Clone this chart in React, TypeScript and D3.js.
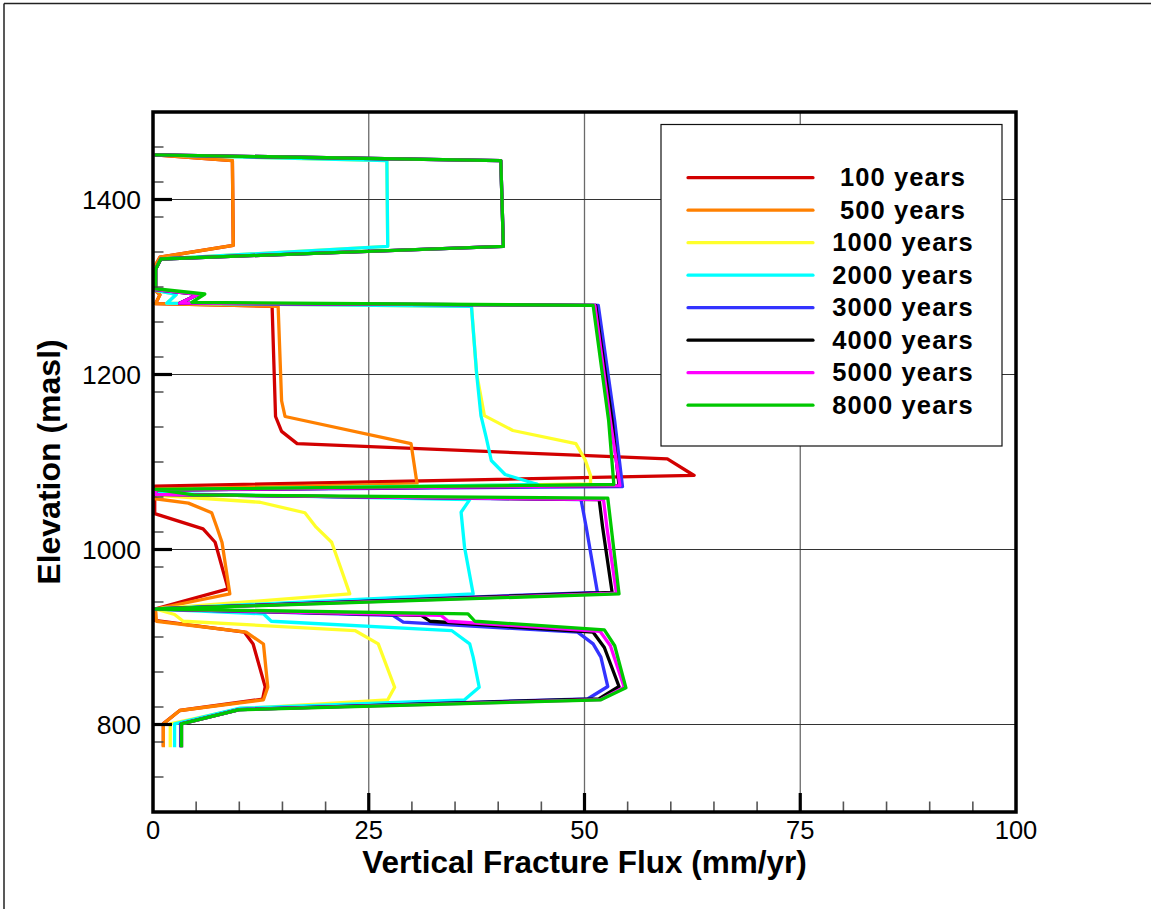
import React from "react";
import * as d3 from "d3";

type Pt = [number, number];

const seriesNames = ["100 years", "500 years", "1000 years", "2000 years", "3000 years", "4000 years", "5000 years", "8000 years"];
const seriesColors = ["#d20000", "#ff8000", "#ffff2a", "#00ffff", "#3333ff", "#000000", "#ff00ff", "#00c800"];

const xTicks = [0, 25, 50, 75, 100];
const yTicks = [800, 1000, 1200, 1400];

const red100: Pt[] = [[0.2,1451],[9.2,1444.5],[9.3,1347.5],[0.8,1334],[0.3,1325],[0.3,1296],[0.8,1291],[0.3,1281],[13.8,1278],[14.2,1152],[14.9,1135],[16.7,1121],[59.6,1103.6],[62.7,1084.6],[0.2,1072.3],[0.2,1041],[5.8,1023.6],[7.2,1008.3],[8.7,955],[0.2,932],[0.2,919],[10.6,905.5],[11.6,892],[13.0,843],[12.7,829],[3.1,816],[1.2,801],[1.2,775]];
const orange500: Pt[] = [[0.2,1451],[9.2,1444.5],[9.3,1347.5],[0.8,1334],[0.3,1325],[0.3,1296],[0.8,1291],[0.3,1281],[14.5,1278],[14.9,1170],[15.3,1152],[29.9,1121],[30.6,1075],[0.3,1069],[0.3,1058],[4.1,1053],[6.8,1042],[7.4,1025.5],[8.0,1008],[8.9,949.3],[0.3,932],[0.4,918],[10.8,905.5],[12.8,892],[13.3,842.6],[12.8,828.2],[3.1,816],[1.2,800.8],[1.2,774]];
const yellow1000: Pt[] = [[0.2,1451],[27.1,1444.5],[27.2,1346.5],[0.9,1332],[0.3,1320],[0.3,1296],[2.7,1291.5],[1.6,1281.5],[36.9,1278],[37.5,1201],[38.4,1153],[41.7,1136],[49.0,1121],[50.1,1102],[50.7,1084.6],[50.7,1075],[0.3,1068],[0.5,1062],[12.4,1054],[17.6,1042],[18.9,1025.5],[20.7,1008.3],[22.0,972],[22.8,949.3],[0.3,932],[2.5,925.7],[3.5,918],[23.4,907.4],[26.1,892.2],[28.0,842.6],[27.2,828.2],[10.0,818],[2.0,800.8],[2.0,774]];
const cyan2000: Pt[] = [[0.2,1451],[27.1,1444.5],[27.2,1346.5],[0.9,1332],[0.3,1320],[0.3,1296],[2.7,1291.5],[1.6,1281.5],[36.9,1278],[37.5,1201],[38.0,1153],[38.6,1128.4],[39.2,1101.7],[40.8,1085.7],[44.6,1074.3],[0.3,1068],[0.5,1064],[36.7,1057],[35.7,1042.6],[36.1,1002.6],[37.1,949.3],[0.3,932],[12.8,926.5],[13.7,918],[34.6,907.4],[36.7,892.2],[37.1,877],[37.8,842.6],[36.1,828.2],[10.1,818.6],[2.5,800.8],[2.5,774]];
const blue3000: Pt[] = [[0.2,1451],[40.3,1444.5],[40.6,1346.5],[0.9,1332],[0.3,1320],[0.3,1297],[5.2,1291.5],[3.1,1281.5],[51.6,1279],[53.5,1147],[54.4,1072],[0.3,1068],[0.3,1063],[49.6,1057],[50.2,1025.5],[51.5,951],[0.3,932],[27.8,924.6],[29.0,917],[49.2,905.5],[51.0,892.2],[51.9,877],[52.7,843.4],[50.4,829.4],[10.0,817],[3.2,800.8],[3.2,774]];
const black4000: Pt[] = [[0.2,1451],[40.3,1444.5],[40.6,1346.5],[0.9,1332],[0.3,1320],[0.3,1297],[5.2,1291.5],[3.1,1281.5],[51.3,1279],[53.2,1147],[54.0,1073],[0.3,1068],[0.3,1063],[51.7,1057],[52.1,1025.5],[53.2,951],[0.3,932],[31.1,924.6],[32.1,918],[51.0,905.5],[52.3,888],[54.0,843.4],[51.7,829.4],[10.0,817],[3.3,800.8],[3.3,774]];
const magenta5000: Pt[] = [[0.2,1451],[40.3,1444.5],[40.6,1346.5],[0.9,1332],[0.3,1320],[0.3,1297],[5.2,1291.5],[3.1,1281.5],[51.2,1279],[53.0,1147],[54.1,1073],[0.3,1068],[0.3,1063],[52.2,1057],[52.6,1025],[53.7,950],[0.3,932],[33.4,924.6],[34.2,918],[51.8,906.5],[53.0,890],[54.6,842.5],[51.9,828.5],[10.0,817],[3.3,800.8],[3.3,774]];
const green8000: Pt[] = [[0.2,1451],[40.3,1444.5],[40.6,1346.5],[0.9,1332],[0.3,1320],[0.3,1298],[6.0,1292],[4.5,1282.5],[51.0,1279],[52.8,1147],[53.4,1074.3],[0.3,1068.6],[4.7,1062.5],[52.7,1058.6],[54.0,949.3],[0.3,932],[36.5,926.5],[37.3,918],[52.3,908.2],[53.5,890],[54.8,841.9],[51.9,828.2],[9.9,816.7],[3.3,800.8],[3.3,774]];

const seriesData: Pt[][] = [red100, orange500, yellow1000, cyan2000, blue3000, black4000, magenta5000, green8000];

const W = 1151;
const H = 909;
const L = 153, R = 1016, T = 112, B = 812;

export default function App() {
  const x = d3.scaleLinear().domain([0, 100]).range([L, R]);
  const y = d3.scaleLinear().domain([700, 1500]).range([B, T]);
  const line = d3.line<Pt>().x((d) => x(d[0])).y((d) => y(d[1]));

  const xMinor = d3.range(0, 101, 5).filter((v) => v % 25 !== 0);
  const yMinor = d3.range(700, 1501, 40).filter((v) => v % 200 !== 0);
  const font = "'Liberation Sans', Arial, Helvetica, sans-serif";

  const legX = 661, legY = 124.5, legW = 341, legH = 321.5;

  return (
    <svg width={W} height={H} style={{ position: "absolute", left: 0, top: 0, background: "#fff" }} fontFamily={font}>
      <rect x={0} y={0} width={W} height={H} fill="#fff" />
      {/* outer frame */}
      <line x1={4} y1={3.5} x2={W} y2={3.5} stroke="#222" strokeWidth={1.5} />
      <line x1={4} y1={3.5} x2={4} y2={H} stroke="#222" strokeWidth={1.5} />

      {/* grid */}
      {xTicks.filter((v) => v > 0 && v < 100).map((v) => (
        <line key={"gx" + v} x1={x(v)} x2={x(v)} y1={T} y2={B} stroke="#6a6a6a" strokeWidth={1.3} />
      ))}
      {yTicks.map((v) => (
        <line key={"gy" + v} x1={L} x2={R} y1={y(v)} y2={y(v)} stroke="#333" strokeWidth={1.1} />
      ))}

      {/* data */}
      {seriesData.map((d, i) => (
        <path key={"s" + i} d={line(d) || ""} fill="none" stroke={seriesColors[i]} strokeWidth={3.3} strokeLinejoin="round" strokeLinecap="butt" />
      ))}

      {/* minor ticks */}
      {xMinor.map((v) => (
        <line key={"mx" + v} x1={x(v)} x2={x(v)} y1={B} y2={B - 10.5} stroke="#555" strokeWidth={1.6} />
      ))}
      {yMinor.map((v) => (
        <line key={"my" + v} x1={L} x2={L + 10.5} y1={y(v)} y2={y(v)} stroke="#444" strokeWidth={1.4} />
      ))}
      {/* major ticks */}
      {xTicks.filter((v) => v > 0 && v < 100).map((v) => (
        <line key={"Mx" + v} x1={x(v)} x2={x(v)} y1={B} y2={B - 19} stroke="#000" strokeWidth={3.2} />
      ))}
      {yTicks.map((v) => (
        <line key={"My" + v} x1={L} x2={L + 19} y1={y(v)} y2={y(v)} stroke="#000" strokeWidth={3.2} />
      ))}

      {/* plot frame */}
      <rect x={L} y={T} width={R - L} height={B - T} fill="none" stroke="#000" strokeWidth={3.5} />

      {/* tick labels */}
      {xTicks.map((v) => (
        <text key={"lx" + v} x={x(v)} y={839} textAnchor="middle" fontSize={25.5} fill="#000">{v}</text>
      ))}
      {yTicks.map((v) => (
        <text key={"ly" + v} x={141} y={y(v) + 9.5} textAnchor="end" fontSize={26.5} fill="#000">{v}</text>
      ))}

      {/* axis titles */}
      <text x={(L + R) / 2} y={872.5} textAnchor="middle" fontSize={31.5} fontWeight="bold" fill="#000">Vertical Fracture Flux (mm/yr)</text>
      <text transform={`translate(60,${(T + B) / 2}) rotate(-90)`} textAnchor="middle" fontSize={32} fontWeight="bold" fill="#000">Elevation (masl)</text>

      {/* legend */}
      <rect x={legX} y={legY} width={legW} height={legH} fill="#fff" stroke="#111" strokeWidth={1.2} />
      {seriesNames.map((n, i) => {
        const ry = 177.7 + i * 32.5;
        return (
          <g key={"lg" + i}>
            <line x1={688} x2={813} y1={ry} y2={ry} stroke={seriesColors[i]} strokeWidth={3.2} strokeLinecap="round" />
            <text x={903} y={ry + 8.5} textAnchor="middle" fontSize={25.5} fontWeight="bold" letterSpacing={1.1} fill="#000">{n}</text>
          </g>
        );
      })}
    </svg>
  );
}
